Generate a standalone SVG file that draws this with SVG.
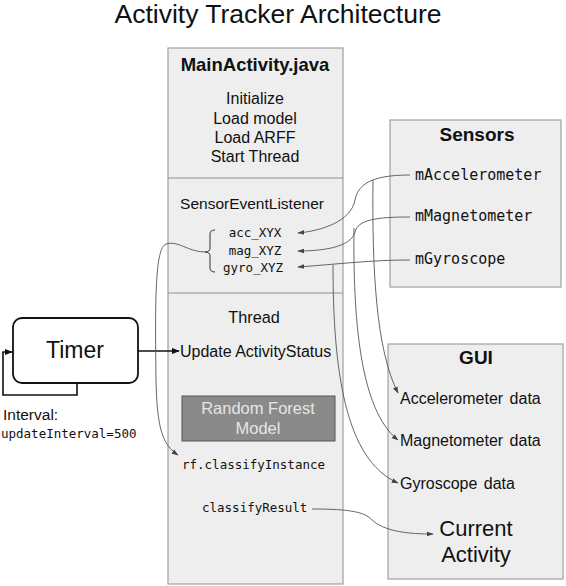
<svg xmlns="http://www.w3.org/2000/svg" width="566" height="586" viewBox="0 0 566 586">
<style>
.box{fill:#eeeeee;stroke:#a0a0a0;stroke-width:1.2}
.div{stroke:#909090;stroke-width:1.2}
.sans{font-family:"Liberation Sans",Arial,sans-serif;fill:#111}
.mono{font-family:"DejaVu Sans Mono","Liberation Mono",monospace;fill:#111}
.b{font-weight:bold}
.c{text-anchor:middle}
.con{fill:none;stroke:#555;stroke-width:0.9}
.blk{fill:none;stroke:#111;stroke-width:1.6}
</style>
<defs>
<marker id="ag" viewBox="0 0 10 10" refX="9" refY="5" markerWidth="7" markerHeight="7" markerUnits="userSpaceOnUse" orient="auto"><path d="M0,1.5 L10,5 L0,8.5 Z" fill="#444"/></marker>
<marker id="ak" viewBox="0 0 10 10" refX="9" refY="5" markerWidth="8" markerHeight="8" markerUnits="userSpaceOnUse" orient="auto"><path d="M0,1 L10,5 L0,9 Z" fill="#111"/></marker>
</defs>
<rect width="566" height="586" fill="#fff"/>
<text class="sans c" x="278" y="23" font-size="26.5">Activity Tracker Architecture</text>

<g id="main">
<rect class="box" x="168" y="48" width="175" height="536"/>
<line class="div" x1="168" y1="178" x2="343" y2="178"/>
<line class="div" x1="168" y1="293" x2="343" y2="293"/>
<text class="sans b c" x="255" y="71" font-size="18.5">MainActivity.java</text>
<text class="sans c" x="255" y="104" font-size="16">Initialize</text>
<text class="sans c" x="255" y="124" font-size="16">Load model</text>
<text class="sans c" x="255" y="143" font-size="16">Load ARFF</text>
<text class="sans c" x="255" y="162" font-size="16">Start Thread</text>
<text class="sans c" x="252" y="209" font-size="15.5">SensorEventListener</text>
<text class="mono c" x="255" y="237" font-size="12.5">acc_XYX</text>
<text class="mono c" x="255" y="255" font-size="12.5">mag_XYZ</text>
<text class="mono c" x="253" y="272" font-size="12.5">gyro_XYZ</text>
<path d="M215,230 Q210,230 210,234 L210,248 Q210,252 205,252 Q210,252 210,256 L210,268 Q210,272 215,272" fill="none" stroke="#333" stroke-width="1"/>
<text class="sans c" x="254" y="323" font-size="16.3">Thread</text>
<text class="sans" x="180" y="357" font-size="16">Update ActivityStatus</text>
<rect x="182" y="396" width="153" height="45" fill="#8a8a8a" stroke="#555" stroke-width="1"/>
<text class="sans c" x="258" y="414" font-size="16.5" style="fill:#e6e6e6">Random Forest</text>
<text class="sans c" x="258" y="434" font-size="16.5" style="fill:#e6e6e6">Model</text>
<text class="mono" x="182" y="469" font-size="12.5">rf.classifyInstance</text>
<text class="mono" x="202" y="512" font-size="12.5">classifyResult</text>
</g>

<g id="sensors">
<rect class="box" x="390" y="120" width="171" height="167"/>
<text class="sans b c" x="477" y="141" font-size="19">Sensors</text>
<text class="mono" x="415" y="180" font-size="15">mAccelerometer</text>
<text class="mono" x="415" y="221" font-size="15">mMagnetometer</text>
<text class="mono" x="415" y="264" font-size="15">mGyroscope</text>
</g>

<g id="gui">
<rect class="box" x="388" y="344" width="175" height="235"/>
<text class="sans b c" x="476" y="364" font-size="19">GUI</text>
<text class="sans" x="400" y="404" font-size="16" word-spacing="2">Accelerometer data</text>
<text class="sans" x="400" y="446" font-size="16" word-spacing="2">Magnetometer data</text>
<text class="sans" x="400" y="489" font-size="16" word-spacing="2">Gyroscope data</text>
<text class="sans c" x="476" y="536" font-size="22">Current</text>
<text class="sans c" x="476" y="562" font-size="22">Activity</text>
</g>

<g id="timer">
<rect x="13" y="318" width="125" height="65" rx="9" fill="#fff" stroke="#111" stroke-width="1.8"/>
<text class="sans c" x="75" y="358" font-size="23">Timer</text>
<text class="sans" x="3" y="420" font-size="15.5">Interval:</text>
<text class="mono" x="1" y="438" font-size="12.5">updateInterval=500</text>
</g>

<g id="connectors">
<path class="blk" d="M77,383 L77,395 L3,395 L3,352 L12,352" marker-end="url(#ak)"/>
<path class="blk" d="M138,351 L179,351" marker-end="url(#ak)"/>
<path class="con" d="M410,175 C370,175 358,185 355,200 C351,222 320,231 298,233" marker-end="url(#ag)"/>
<path class="con" d="M410,217 C375,217 358,220 355,232 C351,248 320,251 298,251" marker-end="url(#ag)"/>
<path class="con" d="M410,260 C370,260 340,264 298,267" marker-end="url(#ag)"/>
<path class="con" d="M373,180 C372,270 376,350 398,393" marker-end="url(#ag)"/>
<path class="con" d="M354,228 C353,320 360,410 398,440" marker-end="url(#ag)"/>
<path class="con" d="M333,265 C333,370 345,460 398,483" marker-end="url(#ag)"/>
<path class="con" d="M205,252 C188,252 178,240 166,244 C155,248 155,300 156,380 C157,430 163,445 178,455" marker-end="url(#ag)"/>
<path class="con" d="M312,509 C350,509 365,512 372,520 C385,532 410,534 433,534" marker-end="url(#ag)"/>
</g>
</svg>
